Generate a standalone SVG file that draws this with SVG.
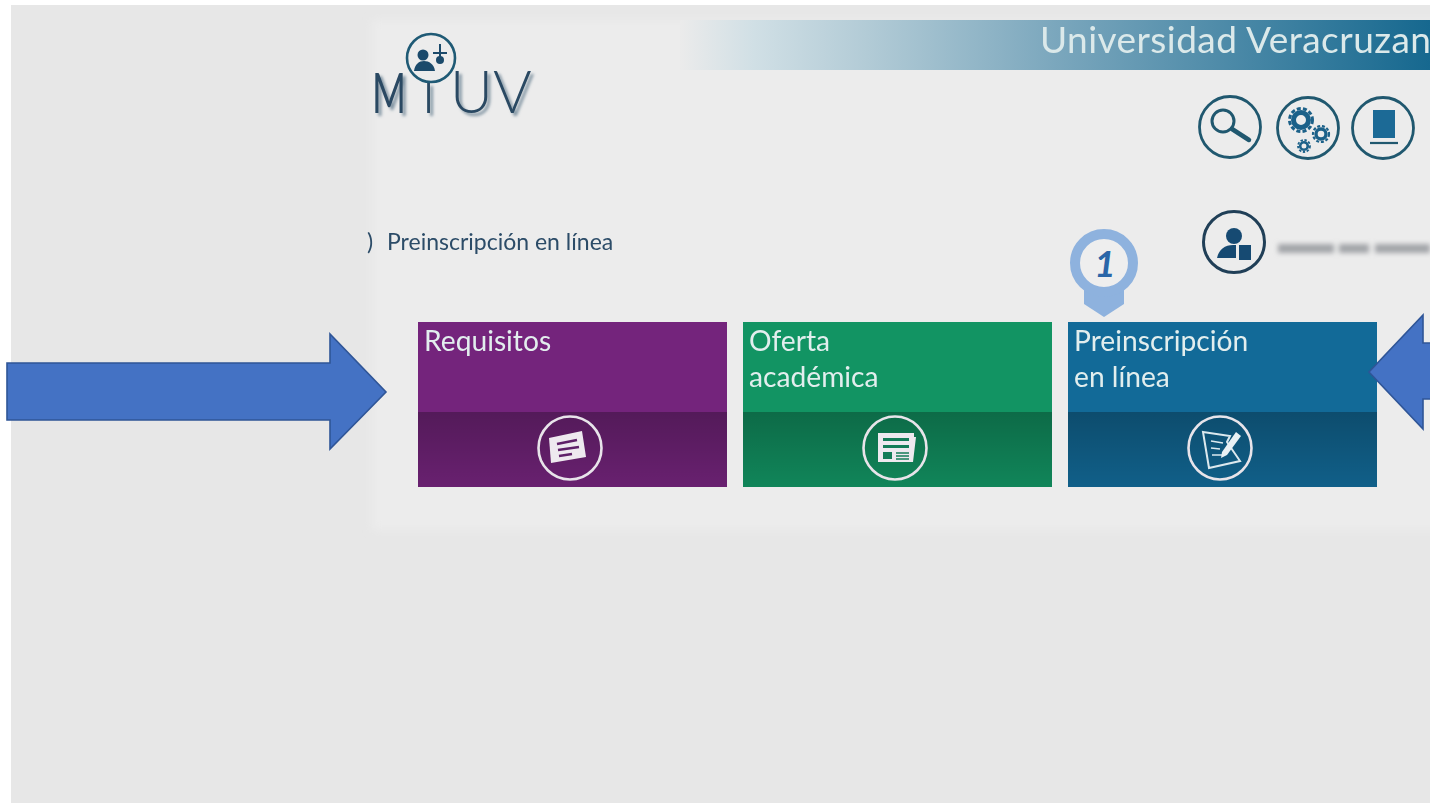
<svg xmlns="http://www.w3.org/2000/svg" width="1430" height="804" viewBox="0 0 1430 804">
<style>
text{font-family:"Lato","Noto Sans","Liberation Sans",sans-serif}
.tile{font-size:28.2px;fill:#e2eeee}
.crumb{font-size:23px;fill:#2c4c68}
.ring{fill:none;stroke:#e8e4ea;stroke-width:2.6}
.tr{fill:none;stroke:#20586f;stroke-width:2.8}
.ic{fill:#eee9ef}
.arrow{fill:#4472c4;stroke:#2f5597;stroke-width:1.6}
</style>
<defs>
<linearGradient id="hdr" x1="0" x2="1" y1="0" y2="0">
<stop offset="0" stop-color="#ebebeb"/><stop offset=".1" stop-color="#d0dfe5"/><stop offset=".25" stop-color="#b2cbd6"/><stop offset=".5" stop-color="#7ba7bd"/><stop offset="1" stop-color="#16688f"/>
</linearGradient>
<linearGradient id="bandfade" x1="0" x2="0" y1="0" y2="1">
<stop offset="0" stop-color="#000" stop-opacity=".28"/><stop offset="1" stop-color="#000" stop-opacity=".1"/>
</linearGradient>
<filter id="blur" x="-5%" y="-150%" width="110%" height="400%"><feGaussianBlur stdDeviation="2.4"/></filter>
<filter id="soft" x="-5%" y="-5%" width="110%" height="110%"><feGaussianBlur stdDeviation="4"/></filter>
<filter id="sh" x="-10%" y="-10%" width="125%" height="125%"><feDropShadow dx="3" dy="3" stdDeviation="1.6" flood-color="#5c7488" flood-opacity=".75"/></filter>
<filter id="b1" x="-2%" y="-2%" width="104%" height="104%" color-interpolation-filters="sRGB"><feGaussianBlur stdDeviation=".5"/></filter>
</defs>

<rect width="1430" height="804" fill="#ffffff"/>
<rect x="11" y="5" width="1419" height="798" fill="#e7e7e7"/>
<rect x="372" y="20" width="1068" height="510" fill="#ececec" filter="url(#soft)"/>

<g id="header">
<rect x="680" y="20" width="750" height="50" fill="url(#hdr)"/>
<text x="1040" y="53" font-size="37" fill="#dbe9ea" letter-spacing=".45" filter="url(#b1)">Universidad Veracruzan</text>
</g>

<g id="logo">
<g filter="url(#sh)" fill="#2c4a63">
<text x="372" y="113" font-size="56" font-weight="400" textLength="34" lengthAdjust="spacingAndGlyphs">M</text>
<text y="113" font-size="59" font-weight="300"><tspan x="422">i</tspan><tspan x="450">UV</tspan></text>
</g>
<circle cx="431" cy="58" r="24" fill="#ececec" stroke="#1f5a75" stroke-width="2.6"/>
<g fill="#1b4a6b">
<circle cx="423" cy="55" r="5.5"/><path d="M414 71c1-7 5-10 10-10s10 3 11 10z"/>
<path d="M439 44h2v8h6v2h-6v8h-2v-8h-6v-2h6z"/><circle cx="440" cy="60" r="4"/>
</g>
</g>

<g id="breadcrumb" filter="url(#b1)">
<text x="367" y="250" class="crumb">)</text>
<text x="387" y="250" class="crumb">Preinscripción en línea</text>
</g>

<g id="icon-search" filter="url(#b1)">
<circle cx="1230" cy="127" r="30.5" class="tr"/>
<circle cx="1223" cy="121" r="11" fill="none" stroke="#20586f" stroke-width="3"/>
<path d="M1232 129l17 11" stroke="#20586f" stroke-width="4.5" stroke-linecap="round"/>
</g>
<g id="icon-settings" filter="url(#b1)">
<circle cx="1308" cy="128" r="30.5" class="tr"/>
<circle cx="1301" cy="120" r="7.5" fill="none" stroke="#1c6189" stroke-width="5"/>
<circle cx="1301" cy="120" r="11.5" fill="none" stroke="#1c6189" stroke-width="3" stroke-dasharray="4 2.2"/>
<circle cx="1321" cy="134" r="5" fill="none" stroke="#1c6189" stroke-width="3.4"/>
<circle cx="1321" cy="134" r="8" fill="none" stroke="#1c6189" stroke-width="2.2" stroke-dasharray="3 1.8"/>
<circle cx="1304" cy="146" r="3.8" fill="none" stroke="#1c6189" stroke-width="2.6"/>
<circle cx="1304" cy="146" r="6" fill="none" stroke="#1c6189" stroke-width="1.8" stroke-dasharray="2.4 1.6"/>
</g>
<g id="icon-exit" filter="url(#b1)">
<circle cx="1383" cy="128" r="30.5" class="tr"/>
<rect x="1373" y="110" width="22" height="28" fill="#1c6a96"/>
<path d="M1370 143h28" stroke="#20586f" stroke-width="2.2"/>
</g>
<g id="icon-user" filter="url(#b1)">
<circle cx="1234" cy="242" r="30.5" fill="none" stroke="#203f57" stroke-width="3"/>
<circle cx="1234" cy="236" r="8" fill="#164a72"/>
<path d="M1217 258c2-9 8-13 16-13h3v13z" fill="#164a72"/>
<rect x="1239" y="245" width="12" height="15" fill="#164a72"/>
</g>
<g id="user-name" filter="url(#blur)" fill="#a3a5a9">
<rect x="1278" y="244" width="56" height="9"/><rect x="1339" y="244" width="30" height="9"/><rect x="1375" y="244" width="55" height="9"/>
</g>

<g id="tile-requisitos" filter="url(#b1)">
<rect x="418" y="322" width="309" height="165" fill="#74247c"/>
<rect x="418" y="412" width="309" height="75" fill="url(#bandfade)"/>
<text x="424" y="351" class="tile">Requisitos</text>
<circle cx="570" cy="448" r="31.5" class="ring"/>
<path d="M549 438l33-7 4 26-35 6z" class="ic"/>
<path d="M557 444l20-4M558 450l21-3M559 456l13-2" stroke="#5f2069" stroke-width="2.6" fill="none"/>
</g>
<g id="tile-oferta" filter="url(#b1)">
<rect x="743" y="322" width="309" height="165" fill="#129463"/>
<rect x="743" y="412" width="309" height="75" fill="url(#bandfade)"/>
<text x="749" y="351" class="tile">Oferta</text>
<text x="749" y="387" class="tile">académica</text>
<circle cx="895" cy="448" r="31.5" class="ring"/>
<path d="M878 433h36v4h2l-3 25h-35z" class="ic"/>
<path d="M883 438h26v3h-26zM883 445h26v3h-26z" fill="#147c58"/>
<rect x="883" y="452" width="9" height="7" fill="#147c58"/>
<path d="M896 453h13M896 456h13M896 459h13" stroke="#147c58" stroke-width="1.5"/>
</g>
<g id="tile-preinscripcion" filter="url(#b1)">
<rect x="1068" y="322" width="309" height="165" fill="#126a98"/>
<rect x="1068" y="412" width="309" height="75" fill="url(#bandfade)"/>
<text x="1074" y="351" class="tile">Preinscripción</text>
<text x="1074" y="387" class="tile">en línea</text>
<circle cx="1220" cy="448" r="31.5" class="ring"/>
<path d="M1203 432l27 4-3 6 13 19-31 7z" fill="none" stroke="#dce9ee" stroke-width="2"/>
<path d="M1211 441l12 2M1211 448l9 1M1212 455l10 0" stroke="#dce9ee" stroke-width="1.6"/>
<path d="M1222 452l14-20 5 4-14 19-6 3z" fill="#e9f1f4"/>
</g>

<g id="pin-1">
<path d="M1084 288h40v16l-20 13-20-13z" fill="#8eb2de"/>
<circle cx="1104" cy="263" r="29" fill="#eeeeee" stroke="#8eb2de" stroke-width="10"/>
<text x="1105" y="277" font-size="37" font-style="italic" font-weight="700" fill="#2a66a8" text-anchor="middle">1</text>
</g>

<g id="connectors">
<path class="arrow" d="M7 363H330V334L386 392 330 449V420H7Z"/>
<path class="arrow" d="M1431 343H1423V315L1369 372 1423 429V399H1431Z"/>
</g>
</svg>
